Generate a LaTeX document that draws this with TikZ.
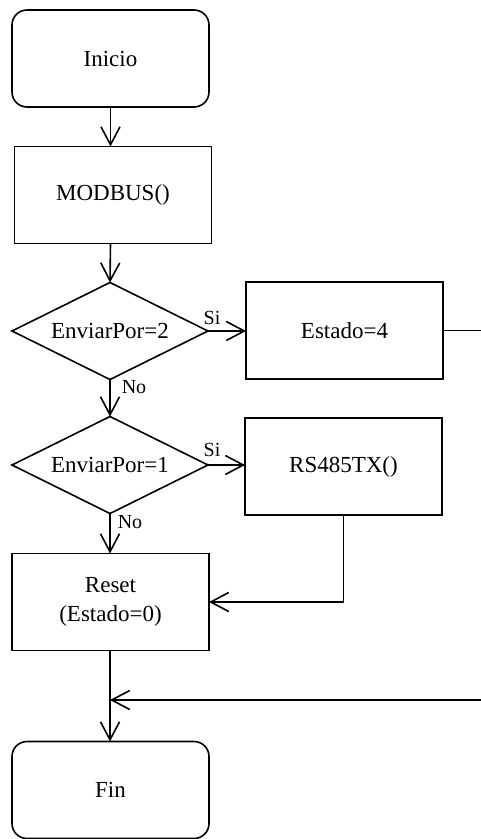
\documentclass[tikz,border=0pt]{standalone}
\usepackage{fontspec}
\setmainfont{Liberation Serif}
\usetikzlibrary{shapes.geometric,arrows.meta}

\tikzset{
  base/.style={draw, line width=1.6pt, inner sep=0pt, outer sep=0pt,
    font=\fontsize{23}{29}\selectfont, align=center},
  terminal/.style={base, rectangle, rounded corners=15pt,
    minimum width=197pt, minimum height=97pt},
  process/.style={base, rectangle, minimum width=197pt, minimum height=97pt},
  decision/.style={base, diamond, aspect=2.5, minimum width=196pt, minimum height=97pt},
  branch/.style={font=\fontsize{20}{24}\selectfont, inner sep=0pt},
  flow/.style={line width=1.6pt, -{Straight Barb[length=18pt,width=19pt,line width=1.6pt]}},
  plain/.style={line width=1.6pt}
}

\begin{document}
\begin{tikzpicture}[x=1pt, y=-1pt]
  \useasboundingbox (0,0) rectangle (481,839);
  \clip (0,0) rectangle (481,839);

  % main column
  \node[terminal] (inicio) at (110.5,58.5) {Inicio};
  \node[process]  (modbus) at (113,195)    {MODBUS()};
  \node[decision] (d2)     at (110,331)    {EnviarPor=2};
  \node[decision] (d1)     at (110,465)    {EnviarPor=1};
  \node[process]  (reset)  at (110.5,602)  {Reset\\(Estado=0)};
  \node[terminal] (fin)    at (110.5,790)  {Fin};

  % side branches
  \node[process] (estado) at (344.5,330.5) {Estado=4};
  \node[process] (rs)     at (343.5,466.5) {RS485TX()};

  % branch labels
  \node[branch] (si2) at (212,318) {Si};
  \node[branch] (no2) at (134,387) {No};
  \node[branch] (si1) at (212,450) {Si};
  \node[branch] (no1) at (130,522) {No};

  % return path from Estado=4, running past the right edge
  \coordinate (rt) at (492,700);
  \coordinate (join) at (110,700);

  % connectors
  \draw[flow] (inicio.south) -- (inicio.south |- modbus.north);
  \draw[flow] (inicio.south |- modbus.south) -- (d2.north);
  \draw[flow] (d2.east) -- (d2.east -| estado.west);
  \draw[flow] (d2.south) -- (d1.north);
  \draw[flow] (d1.east) -- (d1.east -| rs.west);
  \draw[flow] (d1.south) -- (reset.north -| d1.south);
  \draw[flow] (rs.south) -- (rs.south |- reset.east) -- (reset.east);
  \draw[flow] (reset.south -| join) -- (fin.north -| join);
  \draw[plain] (estado.east) -- (estado.east -| rt) -- (rt);
  \draw[flow] (rt) -- (join);
\end{tikzpicture}
\end{document}
